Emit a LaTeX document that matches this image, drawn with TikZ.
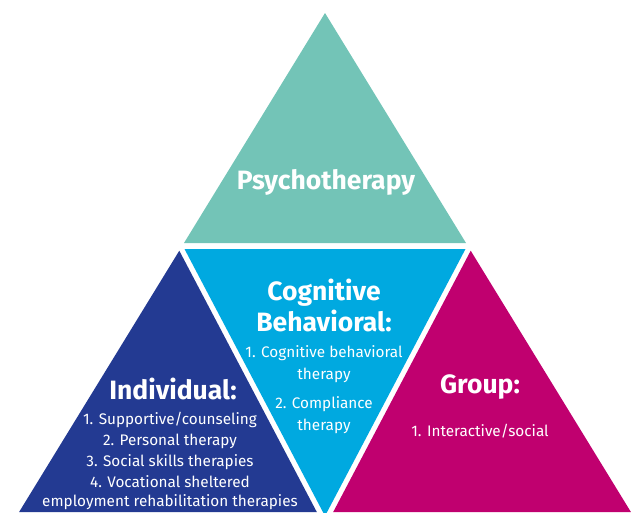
\documentclass[tikz,border=0pt]{standalone}
\usepackage{fontspec}
\setmainfont{Fira Sans}
\usetikzlibrary{positioning}
\definecolor{psyteal}{HTML}{73C4B7}
\definecolor{cogcyan}{HTML}{00A9E0}
\definecolor{indblue}{HTML}{233A92}
\definecolor{grpmag}{HTML}{C0006F}
\tikzset{every path/.style={draw=none}, every node/.style={text=white, align=center, inner sep=0pt},
  head/.style={font=\bfseries\fontsize{26.5}{31}\selectfont},
  items/.style={font=\fontsize{15.3}{21}\selectfont}}

\begin{document}
\begin{tikzpicture}[x=1pt,y=-1pt]
  \useasboundingbox (0,0) rectangle (639,512);
  \clip (0,0) rectangle (639,512);
  \fill[psyteal] (325,13) -- (184,243) -- (466,243) -- cycle;
  \fill[cogcyan] (184.5,249) -- (465.5,249) -- (325,516) -- cycle;
  \fill[indblue] (179.3,250.7) -- (19.1,512) -- (316.8,512) -- cycle;
  \fill[grpmag] (470.7,250.7) -- (630.9,512) -- (333.2,512) -- cycle;
  \node[head] (psy) at (326,182) {Psychotherapy};
  \node[head] (cog) at (324,305) {Cognitive\\Behavioral:};
  \node[items, below=14pt of cog] (coglist) {1. Cognitive behavioral\\[1pt]therapy\\[8pt]2. Compliance\\[1pt]therapy};
  \node[head] (ind) at (173,389) {Individual:};
  \node[items, below=12pt of ind, xshift=-3pt] (indlist) {1. Supportive/counseling\\2. Personal therapy\\3. Social skills therapies\\4. Vocational sheltered\\[-2pt]employment rehabilitation therapies};
  \node[head] (grp) at (480,387) {Group:};
  \node[items, below=24pt of grp] (grplist) {1. Interactive/social};
\end{tikzpicture}
\end{document}
